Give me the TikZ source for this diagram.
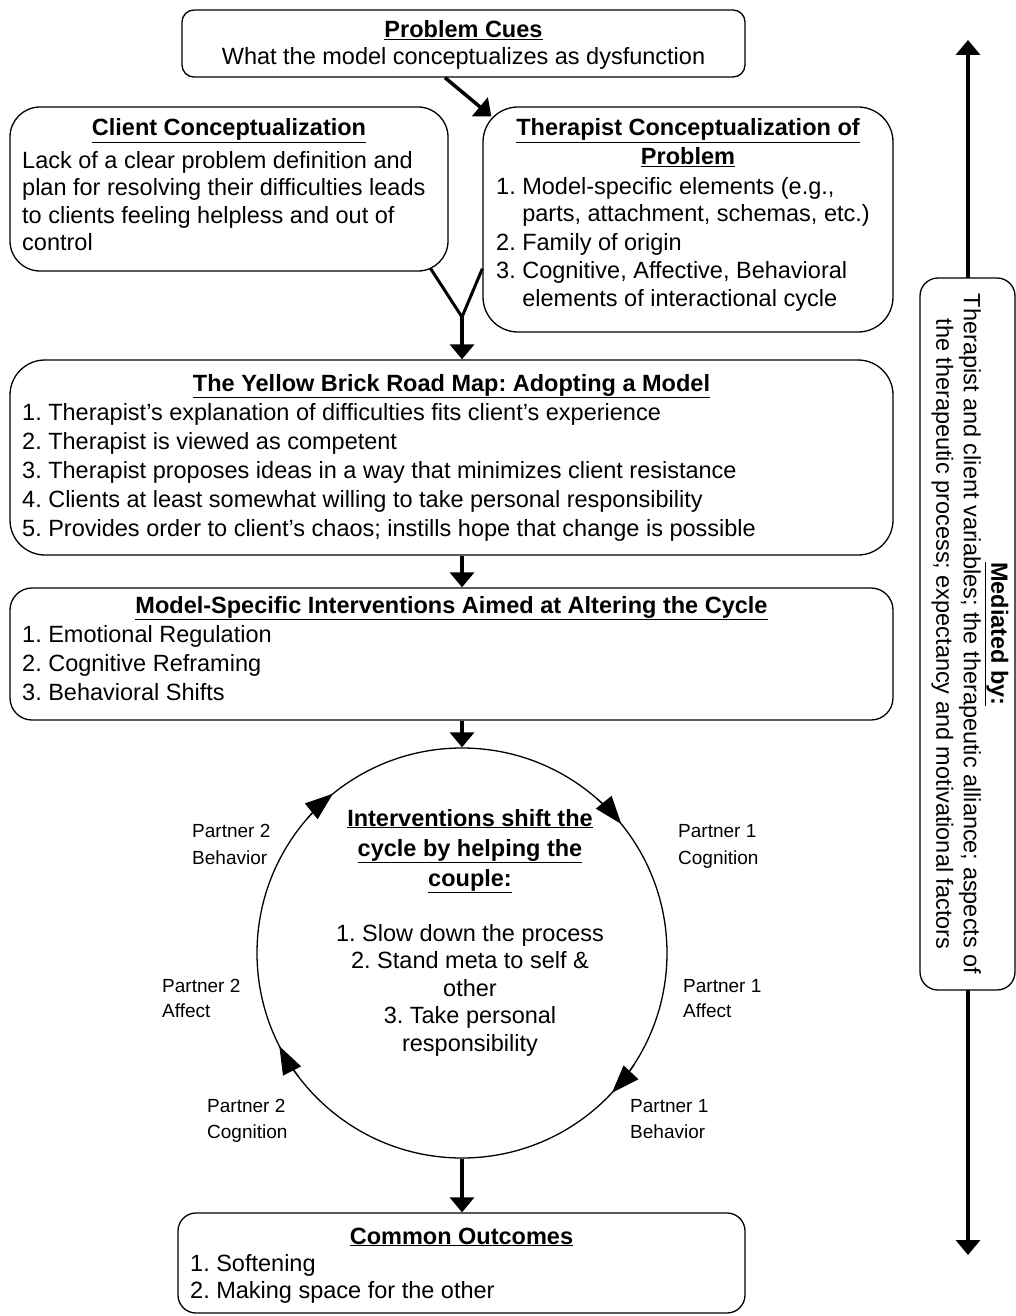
\documentclass[tikz,border=0pt]{standalone}
\usepackage{fontspec}
\setmainfont{Liberation Sans}
\usetikzlibrary{arrows.meta,calc}
\frenchspacing
\begin{document}
\begin{tikzpicture}[x=1pt,y=-1pt,
  box/.style={draw, line width=1.3pt, rounded corners=#1, inner sep=0pt},
  box/.default=20pt,
  body/.style={font=\fontsize{23.5}{28}\selectfont, inner sep=0pt, anchor=base west},
  ttl/.style={font=\fontsize{23.5}{28}\selectfont\bfseries, inner sep=0pt, anchor=base},
  ctr/.style={font=\fontsize{23.5}{28}\selectfont, inner sep=0pt, anchor=base},
  lbl/.style={font=\fontsize{19}{25}\selectfont, inner sep=0pt, anchor=base west},
  conn/.style={line width=3.5pt, -{Triangle[width=24pt,length=15pt]}},
  vline/.style={line width=3pt},
  ctip/.style={line width=1.3pt, -{Triangle[width=20pt,length=28pt]}}
]
\useasboundingbox (0,0) rectangle (1016,1316);

% boxes
\node[box=12pt, minimum width=563pt, minimum height=67pt] (cues) at (463.5,43.5) {};
\node[box=30pt, minimum width=438pt, minimum height=164pt] (client) at (229,189) {};
\node[box=35pt, minimum width=410pt, minimum height=225pt] (ther) at (688,219.5) {};
\node[box=35pt, minimum width=883pt, minimum height=195pt] (yellow) at (451.5,457.5) {};
\node[box=22pt, minimum width=883pt, minimum height=132pt] (model) at (451.5,654) {};
\node[box=18pt, minimum width=567pt, minimum height=100pt] (outc) at (461.5,1263) {};
\node[draw, line width=1.3pt, circle, minimum size=410pt, inner sep=0pt] (cyc) at (462,953) {};

% Problem cues
\node[ttl] (cuesT) at (463.5,38) {\underline{Problem Cues}};
\node[ctr] (cuesB) at (463.5,65) {What the model conceptualizes as dysfunction};

% Client
\node[ttl] (clientT) at (229,136) {\underline{Client Conceptualization}};
\foreach \t [count=\i] in {{Lack of a clear problem definition and},{plan for resolving their difficulties leads},{to clients feeling helpless and out of},{control}}
  \node[body] (cl\i) at (22,{168+27.5*(\i-1)}) {\t};

% Therapist
\node[ttl] (therT1) at (688,136) {\underline{Therapist Conceptualization of}};
\node[ttl] (therT2) at (688,165) {\underline{Problem}};
\foreach \t [count=\i] in {{1. Model-specific elements (e.g.,},{\hphantom{1.} parts, attachment, schemas, etc.)},{2. Family of origin},{3. Cognitive, Affective, Behavioral},{\hphantom{3.} elements of interactional cycle}}
  \node[body] (th\i) at (496,{194+28*(\i-1)}) {\t};

% Yellow brick road
\node[ttl] (yelT) at (451.5,391) {\underline{The Yellow Brick Road Map: Adopting a Model}};
\foreach \t [count=\i] in {{1. Therapist’s explanation of difficulties fits client’s experience},{2. Therapist is viewed as competent},{3. Therapist proposes ideas in a way that minimizes client resistance},{4. Clients at least somewhat willing to take personal responsibility},{5. Provides order to client’s chaos; instills hope that change is possible}}
  \node[body] (yb\i) at (22,{420+29*(\i-1)}) {\t};

% Model specific
\node[ttl] (modT) at (451.5,613) {\underline{Model-Specific Interventions Aimed at Altering the Cycle}};
\foreach \t [count=\i] in {{1. Emotional Regulation},{2. Cognitive Reframing},{3. Behavioral Shifts}}
  \node[body] (md\i) at (22,{642+29*(\i-1)}) {\t};

% Circle inner text
\node[ttl] (ciT1) at (470,826) {\underline{Interventions shift the}};
\node[ttl] (ciT2) at (470,856) {\underline{cycle by helping the}};
\node[ttl] (ciT3) at (470,886) {\underline{couple:}};
\foreach \t [count=\i] in {{1. Slow down the process},{2. Stand meta to self \&},{other},{3. Take personal},{responsibility}}
  \node[ctr] (ci\i) at (470,{941+27.5*(\i-1)}) {\t};

% Partner labels
\node[lbl] (p2b1) at (192,837) {Partner 2};
\node[lbl] (p2b2) at (192,864) {Behavior};
\node[lbl] (p1c1) at (678,837) {Partner 1};
\node[lbl] (p1c2) at (678,864) {Cognition};
\node[lbl] (p2a1) at (162,992) {Partner 2};
\node[lbl] (p2a2) at (162,1017) {Affect};
\node[lbl] (p1a1) at (683,992) {Partner 1};
\node[lbl] (p1a2) at (683,1017) {Affect};
\node[lbl] (p2c1) at (207,1112) {Partner 2};
\node[lbl] (p2c2) at (207,1138) {Cognition};
\node[lbl] (p1b1) at (630,1112) {Partner 1};
\node[lbl] (p1b2) at (630,1138) {Behavior};

% Common outcomes
\node[ttl] (outT) at (461.5,1244) {\underline{Common Outcomes}};
\node[body] (oc1) at (190,1271) {1. Softening};
\node[body] (oc2) at (190,1298) {2. Making space for the other};

% connectors
\coordinate (vj) at (462,317);
\draw[conn] ($(cues.south)+(-18.5,0)$) -- ($(ther.north west)+(9,10)$);
\draw[vline] ($(client.south east)+(-18,-3)$) -- (vj);
\draw[vline] ($(ther.south west)+(0,-64)$) -- (vj);
\draw[conn] (vj) -- (yellow.north -| vj);
\draw[conn] (yellow.south -| vj) -- (model.north -| vj);
\draw[conn] (model.south -| vj) -- (cyc.north);
\draw[conn] (cyc.south) -- (outc.north -| cyc.south);

% circle arrow tips (clockwise)
\draw[ctip] ($(cyc.center)+(-139:205)$) arc[start angle=-139, end angle=-129, radius=205];
\draw[ctip] ($(cyc.center)+(-49:205)$) arc[start angle=-49, end angle=-39, radius=205];
\draw[ctip] ($(cyc.center)+(33:205)$) arc[start angle=33, end angle=43, radius=205];
\draw[ctip] ($(cyc.center)+(143:205)$) arc[start angle=143, end angle=153, radius=205];

% right side mediator
\coordinate (mt) at (968,40);
\coordinate (mb) at (968,1255);
\draw[line width=3.5pt, {Triangle[width=24pt,length=15pt]}-{Triangle[width=24pt,length=15pt]}] (mt) -- (mb);
\node[box=18pt, fill=white, minimum width=95pt, minimum height=712pt] (med) at (967.5,634) {};
\node[rotate=-90, align=center, inner sep=0pt, font=\fontsize{23.5}{27.5}\selectfont] (medT) at (970,634)
  {\textbf{\underline{Mediated by:}}\\Therapist and client variables; the therapeutic alliance; aspects of\\the therapeutic process; expectancy and motivational factors};
\end{tikzpicture}
\end{document}
